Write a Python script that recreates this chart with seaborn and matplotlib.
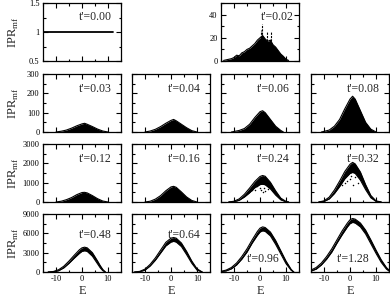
import numpy as np
import matplotlib
matplotlib.use("Agg")
import matplotlib.pyplot as plt
from matplotlib.ticker import MultipleLocator
import seaborn as sns

sns.set_style("ticks")
plt.rcParams['font.family'] = ['Liberation Serif', 'DejaVu Serif']
plt.rcParams['mathtext.fontset'] = 'custom'
plt.rcParams['mathtext.rm'] = 'Liberation Serif'

# ---- data ----
# t'=0.00 : every state has IPR = 1
E00 = [-15, 12]
ipr00 = [1, 1]

# t'=0.02 : noisy hump + a few spikes
E02 = [-14, -13, -12, -11, -10, -9, -8, -7, -6, -5, -4, -3, -2, -1, 0, 1, 2, 3, 4, 5, 6, 7, 8, 9, 10, 11]
up02 = [0.5, 1, 1.5, 2, 3, 5, 4.5, 7, 8, 10, 11, 13, 15, 18, 20, 22, 19, 17, 18, 14, 12, 9, 6, 4, 1.5, 0.5]
spikeE02 = [0.3, 0.9, 2.6, 4.4]
spikeH02 = [27, 32, 26, 25]

# filled humps (dense points down to zero)
E03 = [-10, -8, -6, -4, -2, 0, 1, 2, 4, 6, 8, 10]
up03 = [0, 4, 10, 20, 32, 42, 45, 40, 28, 15, 5, 0]
E04 = [-10, -8, -6, -4, -2, 0, 1, 2, 4, 6, 8, 10]
up04 = [0, 5, 14, 28, 45, 60, 65, 58, 40, 22, 7, 0]
E06 = [-11, -8, -6, -4, -2, 0, 1, 2, 4, 6, 8, 9]
up06 = [0, 8, 18, 40, 75, 105, 110, 100, 65, 30, 8, 0]
E08 = [-11, -8, -6, -4, -2, 0, 1, 2, 4, 6, 8, 10]
up08 = [0, 10, 30, 65, 120, 170, 185, 170, 110, 50, 15, 0]
E12 = [-10, -8, -6, -4, -2, 0, 1, 2, 4, 6, 8, 10]
up12 = [0, 40, 120, 230, 380, 490, 500, 470, 330, 170, 50, 0]
E16 = [-10, -8, -6, -4, -2, 0, 1, 2, 4, 6, 8, 10]
up16 = [0, 40, 150, 330, 580, 780, 810, 760, 520, 260, 80, 0]

# bands (upper / lower edge of the dense band)
E24 = [-12, -10, -8, -6, -4, -2, 0, 1, 2, 4, 6, 8, 10, 11]
up24 = [0, 40, 160, 400, 720, 1060, 1320, 1370, 1330, 1020, 580, 200, 30, 0]
lo24 = [0, 15, 90, 260, 480, 740, 900, 920, 890, 680, 360, 110, 10, 0]
scE24 = [-3, -2, -1, 0, 0.5, 1, 1.5, 2, 3]
scI24 = [600, 620, 820, 700, 620, 500, 750, 560, 650]

E32 = [-12, -10, -8, -6, -4, -2, 0, 1, 2, 4, 6, 8, 10, 12]
up32 = [0, 60, 250, 620, 1080, 1580, 1950, 2050, 1970, 1550, 900, 340, 60, 0]
lo32 = [0, 30, 160, 440, 800, 1200, 1480, 1530, 1480, 1130, 640, 220, 30, 0]
scE32 = [-3, -1, 0, 0.5, 1, 2, 3, -2]
scI32 = [900, 1100, 1200, 1350, 900, 1300, 1000, 1000]

E48 = [-13, -11, -9, -7, -5, -3, -1, 0, 1, 2, 4, 6, 7, 8, 9]
up48 = [0, 80, 350, 900, 1700, 2600, 3450, 3750, 3850, 3750, 3000, 1700, 1000, 400, 0]
lo48 = [0, 30, 200, 650, 1350, 2150, 2900, 3200, 3300, 3200, 2450, 1250, 650, 200, 0]

E64 = [-14, -12, -10, -8, -6, -4, -2, 0, 1, 2, 4, 6, 8, 10, 12]
up64 = [0, 100, 450, 1200, 2200, 3400, 4600, 5250, 5350, 5250, 4500, 3200, 1700, 500, 0]
lo64 = [0, 40, 300, 950, 1850, 2950, 4050, 4650, 4750, 4650, 3950, 2700, 1350, 300, 0]

E96 = [-15, -13, -11, -9, -7, -5, -3, -1, 0, 1, 2, 4, 6, 8, 10, 12, 13]
up96 = [100, 300, 700, 1400, 2400, 3600, 5000, 6300, 6800, 7000, 6900, 6200, 4900, 3300, 1700, 400, 0]
lo96 = [50, 180, 500, 1100, 2000, 3100, 4500, 5700, 6200, 6400, 6300, 5600, 4300, 2800, 1300, 250, 0]

E128 = [-15, -13, -11, -9, -7, -5, -3, -1, 0, 1, 2, 4, 6, 8, 10, 12, 14, 15]
up128 = [300, 700, 1400, 2400, 3600, 5000, 6400, 7600, 8100, 8300, 8200, 7600, 6500, 5000, 3400, 1900, 700, 300]
lo128 = [150, 450, 1100, 2000, 3100, 4500, 5800, 7000, 7500, 7700, 7600, 7000, 5900, 4400, 2900, 1500, 450, 150]

# ---- layout (pixels of a 390x299 figure) ----
W, H = 390, 299
col_left = [43, 132, 221, 311]
row_top = [3, 74, 144, 214]
pw, ph = 78, 58

fig = plt.figure(figsize=(3.9, 2.99), dpi=100)

def make_ax(r, c):
    ax = fig.add_axes([col_left[c] / W, (H - row_top[r] - ph) / H, pw / W, ph / H])
    ax.set_xlim(-15, 15)
    ax.xaxis.set_major_locator(MultipleLocator(10))
    ax.xaxis.set_minor_locator(MultipleLocator(5))
    ax.tick_params(which='both', direction='in', top=True, right=True,
                   width=0.8, labelsize=6, pad=2.5, colors='k')
    ax.tick_params(which='major', length=3.5)
    ax.tick_params(which='minor', length=1.8)
    for s in ax.spines.values():
        s.set_linewidth(0.9)
        s.set_color('k')
    if r == 3:
        ax.set_xticks([-10, 0, 10])
        ax.set_xticklabels(['-10', '0', '10'])
        ax.set_xlabel('E', fontsize=9, labelpad=1)
    else:
        ax.set_xticklabels([])
    return ax

def label(ax, txt, x, y):
    ax.text(x, y, txt, transform=ax.transAxes, ha='center', va='center', fontsize=8.5)

def ylab(ax):
    ax.set_ylabel(r'IPR$_{\mathrm{mf}}$', fontsize=9)
    ax.yaxis.set_label_coords(-0.285, 0.5)

def hump(ax, E, up):
    ax.fill_between(E, 0, up, color='k', lw=0)
    sns.lineplot(x=E, y=up, ax=ax, color='k', lw=0.8)

def band(ax, E, up, lo, scE=None, scI=None):
    ax.fill_between(E, lo, up, color='k', lw=0)
    sns.lineplot(x=E, y=up, ax=ax, color='k', lw=0.8)
    sns.lineplot(x=E, y=lo, ax=ax, color='k', lw=0.8)
    if scE is not None:
        sns.scatterplot(x=scE, y=scI, ax=ax, color='k', s=1.2, linewidth=0)

# row 1
ax = make_ax(0, 0)
sns.lineplot(x=E00, y=ipr00, ax=ax, color='k', lw=1.3)
ax.set_ylim(0.5, 1.5)
ax.set_yticks([0.5, 1, 1.5])
ax.set_yticklabels(['0.5', '1', '1.5'])
ax.yaxis.set_minor_locator(MultipleLocator(0.25))
ylab(ax)
label(ax, "t'=0.00", 0.67, 0.75)

ax = make_ax(0, 2)
hump(ax, E02, up02)
ax.vlines(spikeE02, 0, spikeH02, colors='k', lw=0.8, linestyles=(0, (2, 1)))
ax.set_ylim(0, 50)
ax.set_yticks([0, 20, 40])
ax.yaxis.set_minor_locator(MultipleLocator(10))
label(ax, "t'=0.02", 0.72, 0.75)

# rows 2-4
rows = [
    (300, 100, [("t'=0.03", E03, up03, None), ("t'=0.04", E04, up04, None),
                ("t'=0.06", E06, up06, None), ("t'=0.08", E08, up08, None)]),
    (3000, 1000, [("t'=0.12", E12, up12, None), ("t'=0.16", E16, up16, None),
                  ("t'=0.24", E24, up24, lo24), ("t'=0.32", E32, up32, lo32)]),
    (9000, 3000, [("t'=0.48", E48, up48, lo48), ("t'=0.64", E64, up64, lo64),
                  ("t'=0.96", E96, up96, lo96), ("t'=1.28", E128, up128, lo128)]),
]
scatter_extra = {"t'=0.24": (scE24, scI24), "t'=0.32": (scE32, scI32)}

for r, (ytop, ystep, panels) in enumerate(rows, start=1):
    for c, (name, E, up, lo) in enumerate(panels):
        ax = make_ax(r, c)
        if lo is None:
            hump(ax, E, up)
        else:
            sc = scatter_extra.get(name, (None, None))
            band(ax, E, up, lo, sc[0], sc[1])
        ax.set_ylim(0, ytop)
        ax.yaxis.set_major_locator(MultipleLocator(ystep))
        ax.yaxis.set_minor_locator(MultipleLocator(ystep / 2))
        if c == 0:
            ylab(ax)
        else:
            ax.set_yticklabels([])
        if name in ("t'=0.96", "t'=1.28"):
            label(ax, name, 0.54, 0.22)
        elif r == 3:
            label(ax, name, 0.67, 0.63)
        else:
            label(ax, name, 0.67, 0.75)

fig.savefig('out.png', dpi=100)
